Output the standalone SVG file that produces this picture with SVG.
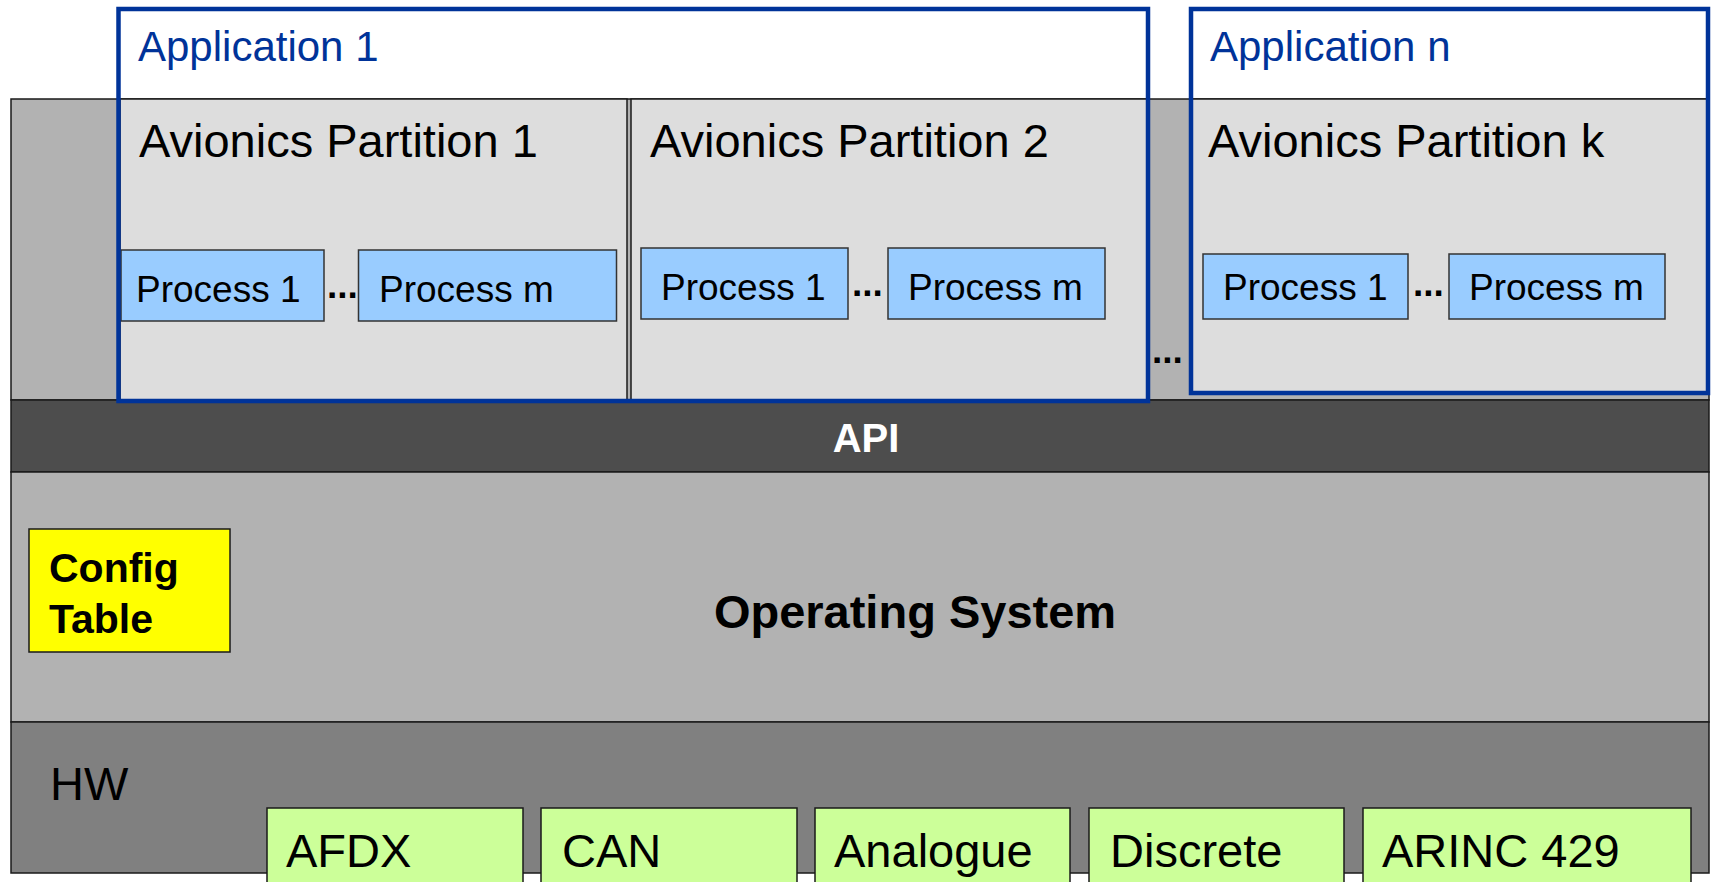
<svg xmlns="http://www.w3.org/2000/svg" width="1712" height="882" viewBox="0 0 1712 882">
<style>
text{font-family:"Liberation Sans",Arial,sans-serif}
.ln{stroke:#1a1a1a;stroke-width:1.5}
.part{fill:#dddddd}
.proc{fill:#99ccff;stroke:#333333;stroke-width:1.5}
.green{fill:#ccff99;stroke:#1a1a1a;stroke-width:1.5}
.app{fill:none;stroke:#003399;stroke-width:4.5}
.apptxt{font-size:42px;fill:#003399}
.parttxt{font-size:47px;fill:#000}
.proctxt{font-size:37px;fill:#000}
.dots{font-size:37px;font-weight:bold;fill:#000}
.hwtxt{font-size:47px;fill:#000}
</style>
<rect width="1712" height="882" fill="#ffffff"/>
<g id="platform-bg">
<rect x="11" y="99" width="1698" height="301" fill="#b2b2b2" class="ln"/>
</g>
<g id="partition-1">
<rect x="120" y="99" width="507" height="301" class="part ln"/>
<text x="139" y="157" class="parttxt">Avionics Partition 1</text>
<g id="p1-process-1"><rect x="121" y="250" width="203" height="71" class="proc"/><text x="136" y="302" class="proctxt">Process 1</text></g>
<text x="327" y="298" class="dots">...</text>
<g id="p1-process-m"><rect x="358.5" y="250" width="258" height="71" class="proc"/><text x="379" y="302" class="proctxt">Process m</text></g>
</g>
<g id="partition-2">
<rect x="631" y="99" width="516" height="301" class="part ln"/>
<text x="650" y="157" class="parttxt">Avionics Partition 2</text>
<g id="p2-process-1"><rect x="641" y="248" width="207" height="71" class="proc"/><text x="661" y="300" class="proctxt">Process 1</text></g>
<text x="852" y="296" class="dots">...</text>
<g id="p2-process-m"><rect x="888" y="248" width="217" height="71" class="proc"/><text x="908" y="300" class="proctxt">Process m</text></g>
</g>
<g id="partition-k">
<rect x="1192" y="99" width="516" height="294" class="part ln"/>
<text x="1208" y="157" class="parttxt">Avionics Partition k</text>
<g id="pk-process-1"><rect x="1203" y="254" width="205" height="65" class="proc"/><text x="1223" y="300" class="proctxt">Process 1</text></g>
<text x="1413" y="296" class="dots">...</text>
<g id="pk-process-m"><rect x="1449" y="254" width="216" height="65" class="proc"/><text x="1469" y="300" class="proctxt">Process m</text></g>
</g>
<g id="dots-apps"><text x="1152" y="363" class="dots">...</text></g>
<g id="api">
<rect x="11" y="400" width="1698" height="72" fill="#4d4d4d" class="ln"/>
<text x="866" y="452" text-anchor="middle" font-size="40" font-weight="bold" fill="#ffffff">API</text>
</g>
<g id="operating-system">
<rect x="11" y="472" width="1698" height="250" fill="#b2b2b2" class="ln"/>
<text x="915" y="628" text-anchor="middle" font-size="47" font-weight="bold" fill="#000">Operating System</text>
</g>
<g id="config-table">
<rect x="29" y="529" width="201" height="123" fill="#ffff00" class="ln"/>
<text x="49" y="582" font-size="41" font-weight="bold" fill="#000">Config</text>
<text x="49" y="633" font-size="41" font-weight="bold" fill="#000">Table</text>
</g>
<g id="hw">
<rect x="11" y="722" width="1698" height="151" fill="#808080" class="ln"/>
<text x="50" y="800" class="hwtxt">HW</text>
</g>
<g id="afdx"><rect x="267" y="808" width="256" height="90" class="green"/><text x="286" y="867" class="hwtxt">AFDX</text></g>
<g id="can"><rect x="541" y="808" width="256" height="90" class="green"/><text x="562" y="867" class="hwtxt">CAN</text></g>
<g id="analogue"><rect x="815" y="808" width="255" height="90" class="green"/><text x="834" y="867" class="hwtxt">Analogue</text></g>
<g id="discrete"><rect x="1089" y="808" width="255" height="90" class="green"/><text x="1110" y="867" class="hwtxt">Discrete</text></g>
<g id="arinc429"><rect x="1363" y="808" width="328" height="90" class="green"/><text x="1382" y="867" class="hwtxt">ARINC 429</text></g>
<g id="application-1">
<rect x="118.5" y="9" width="1029.5" height="392" class="app"/>
<text x="138" y="61" class="apptxt">Application 1</text>
</g>
<g id="application-n">
<rect x="1191" y="9" width="517" height="384" class="app"/>
<text x="1210" y="61" class="apptxt">Application n</text>
</g>
<g id="connectors"></g>
</svg>
